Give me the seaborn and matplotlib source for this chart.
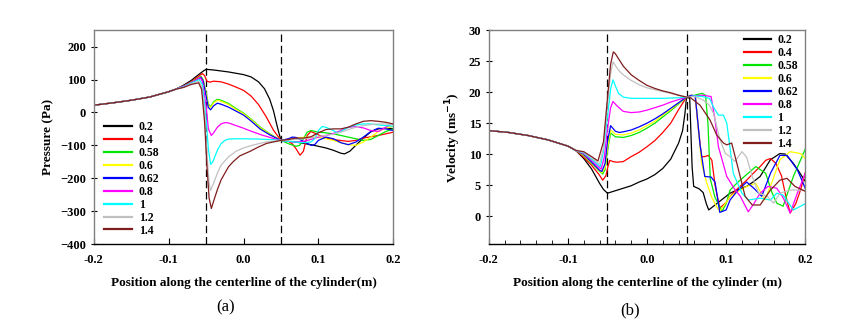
import numpy as np
import pandas as pd
import seaborn as sns
import matplotlib.pyplot as plt
from matplotlib.ticker import MultipleLocator

labels = ["0.2", "0.4", "0.58", "0.6", "0.62", "0.8", "1", "1.2", "1.4"]
colors = ["#000000", "#ff0000", "#00e600", "#ffff00", "#0000ff",
          "#ff00ff", "#00ffff", "#c0c0c0", "#7f1d1d"]

# upstream part, all curves lie on top of each other there
up_x = [-0.2, -0.175, -0.15, -0.125, -0.1, -0.09]
up_p = [22, 29, 37, 47, 63, 71]
up_v = [13.8, 13.5, 13.0, 12.3, 11.3, 10.6]

# ---- pressure (Pa), from x = -0.08 on ----
p_x_02 = [-0.08, -0.07, -0.06, -0.053, -0.05, -0.04, -0.03, -0.02, -0.01, 0.0, 0.01, 0.02, 0.028, 0.035, 0.04, 0.044, 0.047, 0.05,
          0.06, 0.07, 0.08, 0.09, 0.1, 0.11, 0.12, 0.13, 0.135, 0.142, 0.15, 0.16, 0.17, 0.18, 0.19, 0.2]
p_02 = [83, 97, 115, 127, 131, 129, 126, 123, 119, 115, 108, 93, 72, 40, 5, -33, -60, -85,
        -88, -90, -94, -98, -103, -108, -115, -124, -126, -118, -100, -78, -59, -50, -48, -49]

p_x_04 = [-0.08, -0.07, -0.06, -0.055, -0.052, -0.049, -0.045, -0.04, -0.03, -0.02, -0.01, 0.0, 0.01, 0.02, 0.03, 0.04, 0.05,
          0.06, 0.065, 0.07, 0.0755, 0.08, 0.085, 0.09, 0.1, 0.11, 0.125, 0.14, 0.15, 0.16, 0.17, 0.18, 0.19, 0.2]
p_04 = [81, 93, 110, 118, 112, 95, 92, 95, 93, 86, 77, 67, 50, 24, -12, -54, -85,
        -88, -95, -110, -130, -118, -70, -58, -68, -78, -84, -88, -85, -78, -74, -70, -65, -60]

p_x_058 = [-0.08, -0.07, -0.06, -0.057, -0.054, -0.05, -0.047, -0.044, -0.04, -0.035, -0.03, -0.02, -0.01, 0.0, 0.01, 0.022, 0.035, 0.05,
           0.06, 0.07, 0.075, 0.08, 0.085, 0.09, 0.1, 0.11, 0.12, 0.13, 0.14, 0.15, 0.16, 0.17, 0.18, 0.19, 0.2]
p_058 = [80, 91, 105, 110, 100, 60, 25, 18, 32, 40, 37, 27, 12, -2, -20, -44, -65, -85,
         -95, -103, -100, -80, -60, -55, -60, -62, -65, -70, -75, -80, -85, -82, -70, -58, -50]

p_x_06 = [-0.08, -0.07, -0.06, -0.057, -0.054, -0.05, -0.047, -0.044, -0.04, -0.035, -0.03, -0.02, -0.01, 0.0, 0.01, 0.022, 0.035, 0.05,
          0.06, 0.07, 0.08, 0.09, 0.1, 0.11, 0.12, 0.13, 0.14, 0.15, 0.16, 0.17, 0.18, 0.19, 0.2]
p_06 = [80, 91, 104, 108, 98, 57, 22, 15, 29, 37, 34, 24, 9, -4, -22, -46, -66, -85,
        -82, -78, -76, -75, -76, -80, -85, -92, -98, -100, -90, -75, -58, -48, -42]

p_x_062 = [-0.08, -0.07, -0.06, -0.057, -0.054, -0.05, -0.047, -0.044, -0.04, -0.035, -0.03, -0.02, -0.01, 0.0, 0.01, 0.022, 0.035, 0.05,
           0.06, 0.065, 0.07, 0.08, 0.09, 0.095, 0.1, 0.11, 0.12, 0.13, 0.14, 0.15, 0.16, 0.17, 0.18, 0.19, 0.2]
p_062 = [80, 90, 103, 107, 96, 50, 15, 8, 20, 28, 25, 16, 4, -8, -26, -50, -68, -85,
         -80, -75, -76, -88, -100, -98, -85, -75, -80, -92, -98, -90, -75, -58, -48, -50, -55]

p_x_08 = [-0.08, -0.07, -0.06, -0.058, -0.055, -0.05, -0.047, -0.043, -0.04, -0.035, -0.03, -0.025, -0.02, -0.01, 0.0, 0.01, 0.025, 0.04, 0.05,
          0.06, 0.07, 0.08, 0.09, 0.1, 0.11, 0.12, 0.13, 0.14, 0.15, 0.16, 0.17, 0.18, 0.19, 0.2]
p_08 = [79, 90, 103, 105, 95, 20, -50, -70, -62, -45, -35, -31, -32, -40, -48, -57, -69, -79, -85,
        -88, -90, -88, -82, -75, -70, -64, -55, -45, -43, -47, -55, -58, -45, -33]

p_x_1 = [-0.08, -0.07, -0.06, -0.059, -0.055, -0.05, -0.047, -0.044, -0.041, -0.035, -0.03, -0.025, -0.02, -0.01, 0.0, 0.02, 0.04, 0.05,
         0.06, 0.07, 0.08, 0.09, 0.095, 0.1, 0.105, 0.11, 0.12, 0.125, 0.13, 0.14, 0.15, 0.16, 0.17, 0.18, 0.19, 0.2]
p_1 = [78, 89, 99, 100, 85, -20, -110, -158, -150, -115, -95, -85, -81, -80, -80, -81, -83, -85,
       -88, -90, -92, -90, -80, -55, -43, -45, -55, -62, -58, -45, -38, -35, -35, -38, -40, -42]

p_x_12 = [-0.08, -0.07, -0.06, -0.056, -0.052, -0.049, -0.046, -0.044, -0.04, -0.035, -0.03, -0.02, -0.01, 0.0, 0.013, 0.03, 0.05,
          0.06, 0.07, 0.08, 0.09, 0.1, 0.11, 0.12, 0.13, 0.14, 0.15, 0.16, 0.17, 0.18, 0.19, 0.2]
p_12 = [77, 87, 95, 80, 0, -120, -215, -237, -215, -185, -160, -135, -118, -108, -99, -90, -85,
        -84, -82, -80, -77, -73, -70, -66, -60, -52, -45, -40, -37, -35, -35, -37]

p_x_14 = [-0.08, -0.07, -0.06, -0.056, -0.052, -0.049, -0.046, -0.043, -0.04, -0.035, -0.03, -0.02, -0.014, -0.005, 0.008, 0.02, 0.031, 0.05,
          0.06, 0.07, 0.08, 0.09, 0.1, 0.11, 0.12, 0.13, 0.14, 0.15, 0.16, 0.17, 0.18, 0.19, 0.2]
p_14 = [76, 85, 90, 70, -30, -160, -260, -292, -270, -235, -205, -165, -150, -132, -119, -105, -94, -85,
        -82, -78, -78, -74, -62, -52, -50, -50, -45, -35, -27, -25, -27, -30, -35]

# ---- velocity (m/s), from x = -0.08 on ----
v_x_02 = [-0.08, -0.07, -0.06, -0.055, -0.05, -0.04, -0.03, -0.02, -0.01, 0.0, 0.01, 0.02, 0.03, 0.04, 0.045, 0.048, 0.05,
          0.054, 0.057, 0.059, 0.066, 0.071, 0.075, 0.078, 0.09, 0.105, 0.115, 0.126, 0.135, 0.143, 0.156, 0.168, 0.175, 0.185, 0.192, 0.2]
v_02 = [9.3, 7.6, 5.3, 4.3, 3.7, 4.1, 4.5, 4.9, 5.5, 6.0, 6.7, 7.7, 9.2, 11.8, 13.8, 16.6, 19.2,
        19.0, 8.0, 4.8, 4.4, 3.8, 2.0, 1.0, 2.2, 3.7, 4.3, 4.8, 5.6, 6.4, 9.1, 10.1, 10.0, 8.5, 7.2, 5.6]

v_x_04 = [-0.08, -0.07, -0.06, -0.056, -0.052, -0.049, -0.047, -0.043, -0.038, -0.03, -0.02, -0.01, 0.0, 0.01, 0.02, 0.03, 0.04, 0.05,
          0.056, 0.061, 0.065, 0.069, 0.073, 0.0776, 0.082, 0.086, 0.092, 0.1, 0.105, 0.115, 0.126, 0.135, 0.143, 0.15, 0.156, 0.163, 0.17,
          0.175, 0.181, 0.188, 0.194, 0.2]
v_04 = [9.5, 8.2, 6.6, 5.8, 6.5, 8.2, 9.0, 8.8, 8.7, 8.8, 9.6, 10.3, 11.2, 12.2, 13.5, 15.0, 17.2, 19.2,
        19.5, 19.3, 14.0, 9.6, 9.6, 9.8, 9.0, 5.0, 1.3, 2.2, 3.2, 4.5, 5.8, 7.0, 8.0, 9.0, 9.3, 8.5, 6.5,
        3.5, 0.5, 2.0, 4.2, 7.0]

v_x_058 = [-0.08, -0.07, -0.06, -0.056, -0.053, -0.05, -0.046, -0.04, -0.03, -0.02, -0.01, 0.0, 0.01, 0.02, 0.03, 0.04, 0.05,
           0.06, 0.066, 0.07, 0.074, 0.077, 0.08, 0.086, 0.095, 0.1, 0.105, 0.115, 0.1376, 0.15, 0.158, 0.164, 0.172, 0.185, 0.2]
v_058 = [9.8, 8.5, 7.2, 6.8, 7.5, 10.5, 13.4, 12.8, 12.7, 13.0, 13.5, 14.2, 15.0, 16.0, 17.0, 18.1, 19.2,
         19.5, 19.7, 19.8, 19.5, 15.0, 6.0, 3.0, 0.8, 2.0, 4.2, 5.5, 8.0, 6.9, 3.8, 2.1, 1.6, 6.4, 10.8]

v_x_06 = [-0.08, -0.07, -0.06, -0.057, -0.053, -0.05, -0.046, -0.04, -0.03, -0.02, -0.01, 0.0, 0.01, 0.02, 0.03, 0.04, 0.05,
          0.056, 0.061, 0.065, 0.069, 0.0756, 0.082, 0.088, 0.092, 0.1, 0.105, 0.115, 0.126, 0.1376, 0.143, 0.149, 0.158, 0.168, 0.181, 0.194, 0.2]
v_06 = [9.9, 8.6, 7.3, 7.0, 7.8, 11.0, 13.9, 13.2, 13.1, 13.4, 13.9, 14.6, 15.3, 16.3, 17.2, 18.2, 19.2,
        19.5, 19.4, 13.9, 8.5, 5.3, 3.0, 1.5, 0.8, 2.2, 3.2, 4.0, 4.8, 5.3, 4.0, 2.6, 5.5, 9.1, 10.4, 10.1, 9.3]

v_x_062 = [-0.08, -0.07, -0.06, -0.057, -0.053, -0.05, -0.046, -0.04, -0.035, -0.03, -0.02, -0.01, 0.0, 0.01, 0.02, 0.03, 0.04, 0.05,
           0.056, 0.061, 0.064, 0.067, 0.073, 0.081, 0.086, 0.092, 0.1, 0.105, 0.115, 0.126, 0.135, 0.145, 0.156, 0.168, 0.177, 0.19, 0.2]
v_062 = [10.0, 8.7, 7.4, 7.2, 8.5, 12.0, 14.6, 13.7, 13.5, 13.6, 13.9, 14.4, 15.0, 15.7, 16.5, 17.4, 18.3, 19.2,
         19.5, 19.4, 15.5, 11.5, 6.4, 6.3, 5.5, 0.6, 1.0, 2.6, 4.2, 5.5, 4.5, 3.2, 6.9, 9.8, 9.8, 7.5, 4.5]

v_x_08 = [-0.08, -0.07, -0.06, -0.058, -0.054, -0.05, -0.046, -0.043, -0.038, -0.03, -0.02, -0.01, 0.0, 0.01, 0.02, 0.03, 0.04, 0.05,
          0.06, 0.07, 0.081, 0.086, 0.0903, 0.1008, 0.11, 0.118, 0.128, 0.135, 0.143, 0.153, 0.164, 0.172, 0.181, 0.19, 0.2]
v_08 = [10.1, 9.0, 7.8, 7.6, 9.5, 14.0, 17.5, 18.5, 17.8, 16.9, 16.7, 16.8, 17.1, 17.5, 17.9, 18.4, 18.8, 19.2,
        19.4, 19.5, 19.3, 15.5, 11.2, 6.4, 4.5, 3.2, 0.7, 2.0, 3.7, 4.8, 4.5, 3.0, 0.5, 3.7, 6.9]

v_x_1 = [-0.08, -0.07, -0.06, -0.059, -0.055, -0.05, -0.046, -0.043, -0.04, -0.036, -0.03, -0.02, 0.0, 0.02, 0.04, 0.05,
         0.06, 0.07, 0.079, 0.084, 0.0903, 0.0966, 0.1008, 0.105, 0.109, 0.12, 0.128, 0.143, 0.156, 0.164, 0.172, 0.185, 0.2]
v_1 = [10.2, 9.2, 8.1, 8.0, 10.5, 16.0, 20.5, 22.0, 21.0, 19.8, 19.2, 19.0, 19.0, 19.0, 19.1, 19.2,
       19.4, 19.3, 19.0, 17.6, 16.3, 16.3, 15.0, 11.0, 6.9, 3.7, 2.6, 2.9, 2.6, 3.7, 3.4, 1.0, 2.0]

v_x_12 = [-0.08, -0.07, -0.06, -0.055, -0.05, -0.046, -0.043, -0.04, -0.035, -0.03, -0.02, -0.01, 0.0, 0.02, 0.04, 0.05,
          0.06, 0.07, 0.078, 0.084, 0.0924, 0.099, 0.105, 0.111, 0.12, 0.126, 0.133, 0.141, 0.152, 0.16, 0.168, 0.181, 0.2]
v_12 = [10.3, 9.4, 8.4, 11.0, 18.0, 23.0, 24.9, 24.3, 23.4, 22.8, 21.9, 21.2, 20.7, 20.1, 19.5, 19.2,
        19.3, 18.8, 18.0, 16.6, 12.3, 10.1, 9.6, 8.8, 10.4, 9.5, 6.4, 3.7, 3.2, 2.1, 3.7, 4.2, 4.2]

v_x_14 = [-0.08, -0.07, -0.062, -0.055, -0.05, -0.046, -0.0426, -0.04, -0.035, -0.03, -0.02, -0.01, 0.0, 0.01, 0.02, 0.03, 0.04, 0.05,
          0.054, 0.067, 0.0797, 0.088, 0.0966, 0.1008, 0.107, 0.1156, 0.124, 0.133, 0.143, 0.156, 0.168, 0.177, 0.187, 0.2]
v_14 = [10.4, 9.6, 8.9, 12.0, 19.0, 24.5, 26.5, 26.2, 25.2, 24.2, 22.8, 21.9, 21.1, 20.6, 20.2, 19.9, 19.5, 19.2,
        19.2, 17.9, 15.5, 13.1, 11.8, 11.5, 11.8, 7.5, 3.2, 1.8, 1.8, 4.2, 5.8, 6.1, 4.8, 4.0]

p_series = [(p_x_02, p_02), (p_x_04, p_04), (p_x_058, p_058), (p_x_06, p_06), (p_x_062, p_062),
            (p_x_08, p_08), (p_x_1, p_1), (p_x_12, p_12), (p_x_14, p_14)]
v_series = [(v_x_02, v_02), (v_x_04, v_04), (v_x_058, v_058), (v_x_06, v_06), (v_x_062, v_062),
            (v_x_08, v_08), (v_x_1, v_1), (v_x_12, v_12), (v_x_14, v_14)]


def long_frame(series, up_y):
    parts = []
    for lab, (xs, ys) in zip(labels, series):
        parts.append(pd.DataFrame({"x": up_x + xs, "y": up_y + ys, "case": lab}))
    return pd.concat(parts, ignore_index=True)


df_p = long_frame(p_series, up_p)
df_v = long_frame(v_series, up_v)
palette = dict(zip(labels, colors))

plt.rcParams["font.family"] = ["Liberation Serif", "DejaVu Serif"]
plt.rcParams["font.weight"] = "bold"
plt.rcParams["axes.labelweight"] = "bold"

fig = plt.figure(figsize=(8.53, 3.28), dpi=100)
ax1 = fig.add_axes([0.110, 0.256, 0.351, 0.652])
ax2 = fig.add_axes([0.573, 0.256, 0.371, 0.652])

for ax, df in [(ax1, df_p), (ax2, df_v)]:
    sns.lineplot(data=df, x="x", y="y", hue="case", hue_order=labels, palette=palette,
                 sort=False, estimator=None, linewidth=0.9, ax=ax)
    for xv in (-0.05, 0.05):
        ax.axvline(xv, color="black", linestyle=(0, (6, 3)), linewidth=0.9, zorder=0)
    ax.set_xlim(-0.2, 0.2)
    ax.xaxis.set_major_locator(MultipleLocator(0.1))
    ax.xaxis.set_major_formatter(plt.FuncFormatter(lambda v, p: f"{v:.1f}"))
    for side in ("top", "right", "left"):
        ax.spines[side].set_color("#808080")
        ax.spines[side].set_linewidth(1.0)
    ax.spines["bottom"].set_color("black")
    ax.spines["bottom"].set_linewidth(1.0)
    ax.tick_params(axis="x", direction="in", length=4, labelsize=9, pad=7)
    ax.tick_params(axis="y", direction="inout", length=5, labelsize=9, pad=3)
    handles, labs = ax.get_legend_handles_labels()
    for h in handles:
        h.set_linewidth(1.6)
    ax.get_legend().remove()
    if ax is ax1:
        ax.legend(handles, labs, loc="lower left", bbox_to_anchor=(0.0, -0.015), frameon=False,
                  fontsize=8.5, handlelength=2.3, handletextpad=0.6, labelspacing=0.08)
    else:
        ax.legend(handles, labs, loc="upper right", bbox_to_anchor=(1.01, 1.03), frameon=False,
                  fontsize=8.5, handlelength=2.3, handletextpad=0.5, labelspacing=0.08)

ax1.set_ylim(-400, 250)
ax1.set_yticks(np.arange(-400, 201, 100))
ax1.set_xlabel("Position along the centerline of the cylinder(m)", fontsize=9.5, labelpad=8)
ax1.set_ylabel("Pressure (Pa)", fontsize=9.5, labelpad=4)

ax2.set_ylim(-4.5, 30)
ax2.set_yticks(np.arange(0, 31, 5))
ax2.xaxis.set_minor_locator(MultipleLocator(0.02))
ax2.tick_params(axis="x", which="minor", direction="in", length=3)
ax2.set_xlabel("Position along the centerline of the cylinder (m)", fontsize=9.5, labelpad=8)
ax2.set_ylabel("Velocity (ms$^{\\mathbf{-1}}$)", fontsize=9.5, labelpad=4)

fig.text(0.264, 0.064, "(a)", ha="center", va="center", fontsize=12, fontweight="normal")
fig.text(0.739, 0.055, "(b)", ha="center", va="center", fontsize=12, fontweight="normal")

fig.savefig("out.png", dpi=100)
